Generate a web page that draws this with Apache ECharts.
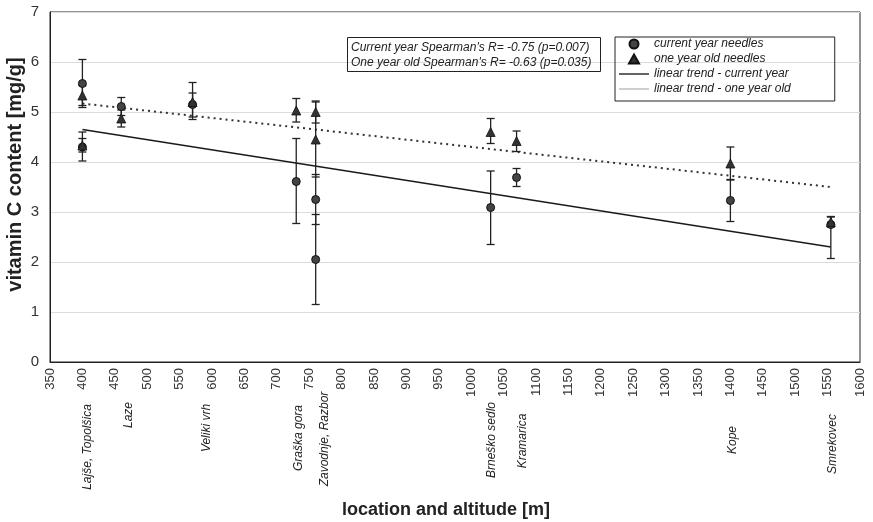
<!DOCTYPE html>
<html><head><meta charset="utf-8">
<script src="https://cdn.jsdelivr.net/npm/echarts@6/dist/echarts.min.js"></script>
<style>html,body{margin:0;padding:0;background:#fff}#c{width:873px;height:522px}</style>
</head><body><div id="c"></div>
<script>
// ---- data ----
const altitudes   = [400, 400, 460, 570, 730, 760, 760, 1030, 1070, 1400, 1555];
const currentYear = [5.57, 4.30, 5.11, 5.15, 3.61, 3.25, 2.05, 3.09, 3.69, 3.23, 2.75];
const currentLow  = [5.09, 4.02, 4.93, 4.90, 2.77, 2.75, 1.15, 2.35, 3.51, 2.81, 2.07];
const currentHigh = [6.05, 4.60, 5.29, 5.38, 4.47, 3.75, 2.95, 3.82, 3.87, 3.65, 2.91];
const oneYearOld  = [5.33, 4.33, 4.87, 5.20, 5.03, 5.00, 4.45, 4.60, 4.42, 3.97, 2.80];
const oneYearLow  = [5.13, 4.20, 4.70, 4.85, 4.80, 4.78, 3.70, 4.37, 4.21, 3.64, 2.70];
const oneYearHigh = [5.53, 4.47, 5.04, 5.59, 5.27, 5.22, 5.20, 4.87, 4.62, 4.30, 2.90];
const trendX       = [400, 1555];
const trendCurrent = [4.65, 2.30];
const trendOneYear = [5.17, 3.50];
const locationNames     = ['Lajše, Topolšica', 'Laze', 'Veliki vrh', 'Graška gora', 'Zavodnje, Razbor', 'Brneško sedlo', 'Kramarica', 'Kope', 'Smrekovec'];
const locationAltitudes = [400, 460, 570, 730, 760, 1030, 1070, 1400, 1555];
const xMin = 350, xMax = 1600, xStep = 50;
const yMin = 0, yMax = 7, yStep = 1;
const statsText = ["Current year Spearman's R= -0.75 (p=0.007)", "One year old Spearman's R= -0.63 (p=0.035)"];
const seriesNames = ['current year needles', 'one year old needles', 'linear trend - current year', 'linear trend - one year old'];

// ---- layout / style ----
const FONT = '"Liberation Sans", Arial, sans-serif';
const labelCenterY = [447, 415, 428, 438, 439, 440, 441, 440, 444];
const labelDx = [5, 7, 14, 2, 9, 1, 6, 2, 2];

function errorBars(low, high) {
  return altitudes.map((a, i) => [a, low[i], high[i]]);
}
function renderErr(params, api) {
  const x = api.value(0), lo = api.value(1), hi = api.value(2);
  const p1 = api.coord([x, hi]), p2 = api.coord([x, lo]);
  const w = 4;
  const st = { stroke: '#222', lineWidth: 1.3 };
  return { type: 'group', children: [
    { type: 'line', shape: { x1: p1[0], y1: p1[1], x2: p2[0], y2: p2[1] }, style: st },
    { type: 'line', shape: { x1: p1[0] - w, y1: p1[1], x2: p1[0] + w, y2: p1[1] }, style: st },
    { type: 'line', shape: { x1: p2[0] - w, y1: p2[1], x2: p2[0] + w, y2: p2[1] }, style: st }
  ]};
}

const chart = echarts.init(document.getElementById('c'));
const option = {
  animation: false,
  backgroundColor: '#fff',
  textStyle: { fontFamily: FONT },
  grid: { left: 50, right: 13, top: 12, bottom: 160, show: true, borderColor: '#222', borderWidth: 1,
          containLabel: false, outerBoundsMode: 'none' },
  title: {
    text: statsText.join('\n'), left: 347, top: 37,
    borderColor: '#222', borderWidth: 1, padding: [3, 9, 2, 4],
    textStyle: { fontStyle: 'italic', fontWeight: 'normal', fontSize: 12, lineHeight: 15, color: '#222', fontFamily: FONT }
  },
  legend: {
    orient: 'vertical', left: 615, top: 37,
    borderColor: '#222', borderWidth: 1, padding: [1, 44, 6, 4],
    itemWidth: 30, itemHeight: 9, itemGap: 3, symbolKeepAspect: true,
    textStyle: { fontStyle: 'italic', fontSize: 12, color: '#222', fontFamily: FONT },
    data: [
      { name: seriesNames[0], icon: 'circle' },
      { name: seriesNames[1], icon: 'path://M5,0L10,9L0,9Z' },
      { name: seriesNames[2], icon: 'path://M0,0H30V1.4H0Z', itemStyle: { color: '#222' } },
      { name: seriesNames[3], icon: 'path://M0,0H30V1.4H0Z', itemStyle: { color: '#bbb' } }
    ]
  },
  xAxis: {
    type: 'value', min: xMin, max: xMax, interval: xStep,
    axisLine: { lineStyle: { color: '#222' } }, axisTick: { show: false },
    splitLine: { show: false },
    axisLabel: { rotate: 90, fontSize: 13, color: '#333', margin: 6, fontFamily: FONT,
                 formatter: v => String(v) },
    name: 'location and altitude [m]', nameLocation: 'middle', nameGap: 139, nameMoveOverlap: false,
    nameTextStyle: { fontSize: 18, fontWeight: 'bold', color: '#222', padding: [0, 18, 0, 0], fontFamily: FONT }
  },
  yAxis: {
    type: 'value', min: yMin, max: yMax, interval: yStep,
    axisLine: { show: true, lineStyle: { color: '#222' } }, axisTick: { show: false },
    splitLine: { lineStyle: { color: '#dcdcdc' } },
    axisLabel: { fontSize: 15, color: '#333', margin: 11, fontFamily: FONT },
    name: 'vitamin C content [mg/g]', nameLocation: 'middle', nameGap: 25, nameMoveOverlap: false,
    nameTextStyle: { fontSize: 20, fontWeight: 'bold', color: '#222', padding: [0, 0, 0, 25], fontFamily: FONT }
  },
  series: [
    { type: 'line', name: seriesNames[2], data: trendX.map((x, i) => [x, trendCurrent[i]]),
      symbol: 'none', lineStyle: { color: '#1a1a1a', width: 1.4 }, z: 1 },
    { type: 'line', name: seriesNames[3], data: trendX.map((x, i) => [x, trendOneYear[i]]),
      symbol: 'none', lineStyle: { color: '#333', width: 2, type: [2, 4] }, z: 1 },
    { type: 'custom', renderItem: renderErr, data: errorBars(currentLow, currentHigh), z: 2, silent: true },
    { type: 'custom', renderItem: renderErr, data: errorBars(oneYearLow, oneYearHigh), z: 2, silent: true },
    { type: 'scatter', name: seriesNames[0], data: altitudes.map((a, i) => [a, currentYear[i]]),
      symbol: 'circle', symbolSize: 8, itemStyle: { color: '#444', borderColor: '#111', borderWidth: 1, opacity: 1 }, z: 3 },
    { type: 'scatter', name: seriesNames[1], data: altitudes.map((a, i) => [a, oneYearOld[i]]),
      symbol: 'triangle', symbolSize: 9, itemStyle: { color: '#333', borderColor: '#111', borderWidth: 0.8, opacity: 1 }, z: 4 }
  ]
};
chart.setOption(option);
chart.setOption({
  graphic: locationNames.map((n, i) => ({
    type: 'text',
    x: chart.convertToPixel({ xAxisIndex: 0 }, locationAltitudes[i]) + labelDx[i],
    y: labelCenterY[i],
    rotation: Math.PI / 2,
    style: { text: n, fontStyle: 'italic', fontSize: 12, fontFamily: FONT, fill: '#222', align: 'center', verticalAlign: 'middle' }
  }))
});
</script></body></html>
